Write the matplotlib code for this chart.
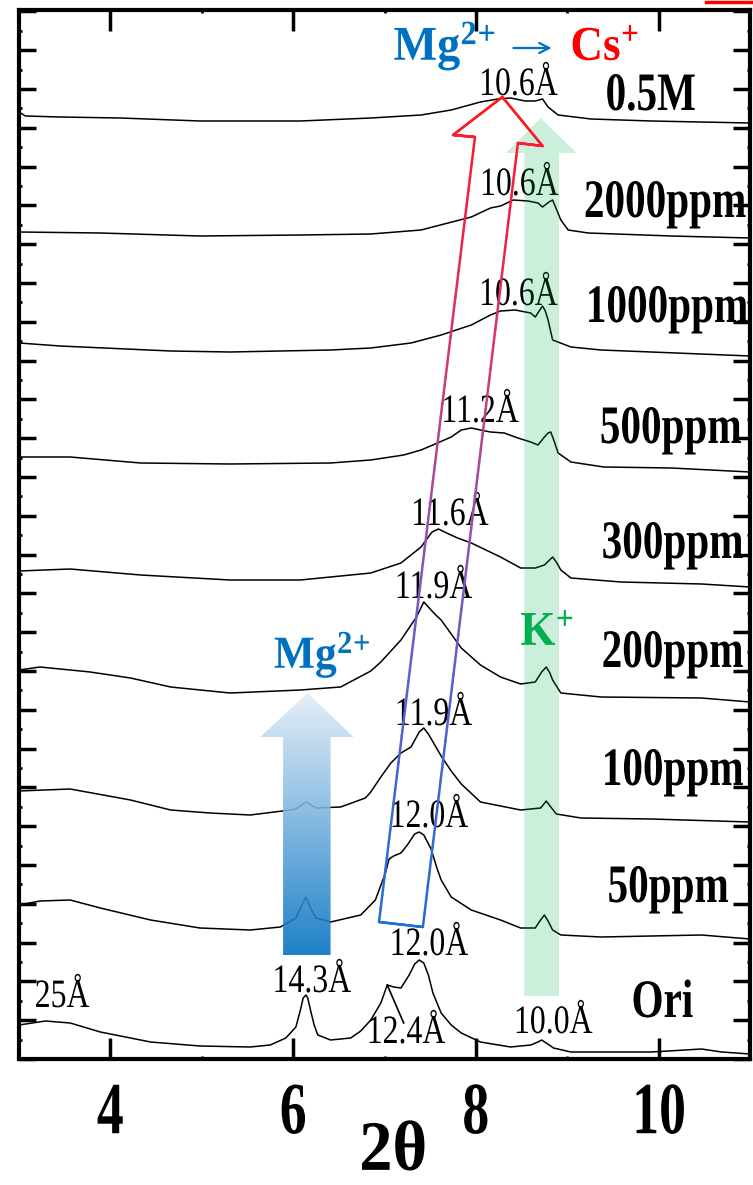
import numpy as np
import matplotlib
matplotlib.use("Agg")
import matplotlib.pyplot as plt
from matplotlib import patheffects
from matplotlib.collections import LineCollection
from matplotlib.colors import LinearSegmentedColormap, Normalize
from matplotlib.lines import Line2D
from matplotlib.patches import Polygon
from matplotlib.text import Text
from matplotlib.ticker import MultipleLocator, AutoMinorLocator
from matplotlib.transforms import Affine2D, Bbox

plt.rcParams['font.family'] = ['Liberation Serif', 'DejaVu Serif']
plt.rcParams['mathtext.fontset'] = 'custom'
plt.rcParams['mathtext.rm'] = 'Liberation Serif'
plt.rcParams['mathtext.bf'] = 'Liberation Serif:bold'
plt.rcParams['mathtext.it'] = 'Liberation Serif:italic'

# stacked XRD patterns, 2theta (deg) vs offset intensity (a.u.)
ori_tt = [3.00, 3.29, 3.56, 3.89, 4.44, 4.98, 5.53, 5.75, 5.92, 6.03, 6.08, 6.11, 6.14, 6.16,
          6.19, 6.23, 6.27, 6.41, 6.63, 6.74, 6.85, 6.96, 7.03, 7.10, 7.18, 7.27, 7.33, 7.38,
          7.43, 7.48, 7.53, 7.62, 7.73, 7.84, 8.05, 8.38, 8.60, 8.68, 8.72, 8.77, 8.85, 9.04,
          9.37, 9.92, 10.47, 10.69, 11.0]
ori_i = [34, 38, 36, 27, 17, 13, 12, 14, 21, 32, 49, 61, 64, 61,
         49, 34, 24, 19, 21, 28, 39, 56, 74, 72, 71, 84, 95, 99,
         96, 84, 66, 46, 34, 26, 17, 12, 14, 17, 19, 16, 11, 7,
         7, 7, 10, 7, 5]

p50_tt = [3.00, 3.23, 3.56, 3.89, 4.44, 4.98, 5.53, 5.86, 6.03, 6.08, 6.14, 6.19, 6.25, 6.41,
          6.74, 6.90, 7.01, 7.05, 7.10, 7.18, 7.25, 7.33, 7.38, 7.43, 7.51, 7.57, 7.62, 7.73,
          7.95, 8.27, 8.49, 8.65, 8.70, 8.75, 8.79, 8.84, 8.93, 9.37, 10.47, 11.0]
p50_i = [154, 158, 159, 151, 139, 131, 129, 132, 141, 151, 162, 151, 141, 137,
         144, 159, 186, 200, 203, 206, 214, 225, 227, 224, 210, 192, 179, 162,
         149, 139, 131, 131, 138, 144, 138, 129, 124, 122, 124, 120]

p100_tt = [3.00, 3.56, 4.22, 4.66, 5.09, 5.53, 5.97, 6.03, 6.14, 6.25, 6.52, 6.79, 6.85, 6.96,
           7.07, 7.18, 7.29, 7.38, 7.43, 7.48, 7.62, 7.73, 7.84, 8.05, 8.49, 8.60, 8.71, 8.77,
           8.82, 8.88, 9.15, 9.92, 11.0]
p100_i = [268, 270, 259, 249, 246, 244, 249, 250, 257, 251, 252, 261, 267, 282,
          296, 306, 312, 327, 331, 325, 303, 288, 275, 257, 249, 250, 251, 258,
          252, 245, 241, 240, 237]

p200_tt = [3.00, 3.23, 3.78, 4.22, 4.66, 5.31, 6.08, 6.52, 6.85, 6.96, 7.18, 7.35, 7.43, 7.48,
           7.55, 7.62, 7.84, 8.05, 8.27, 8.49, 8.65, 8.72, 8.77, 8.81, 8.84, 8.93, 9.37, 10.47,
           11.0]
p200_i = [389, 392, 387, 381, 372, 366, 369, 372, 388, 397, 419, 442, 457, 452,
          445, 439, 411, 394, 382, 375, 377, 387, 392, 386, 379, 366, 362, 361,
          357]

p300_tt = [3.00, 3.56, 4.33, 5.31, 6.08, 6.85, 7.18, 7.40, 7.52, 7.59, 7.68, 7.80, 7.95, 8.27,
           8.49, 8.65, 8.75, 8.84, 8.88, 8.93, 9.04, 9.59, 10.47, 11.0]
p300_i = [488, 490, 484, 479, 479, 486, 496, 512, 527, 530, 526, 521, 516, 502,
          491, 491, 494, 502, 497, 489, 481, 477, 475, 472]

p500_tt = [3.00, 3.56, 4.33, 5.31, 6.41, 6.85, 7.21, 7.40, 7.58, 7.73, 7.84, 7.95, 8.05, 8.16,
           8.31, 8.46, 8.60, 8.68, 8.75, 8.79, 8.82, 8.86, 8.90, 9.04, 9.40, 10.14, 11.0]
p500_i = [602, 602, 596, 595, 596, 599, 604, 609, 616, 622, 629, 631, 629, 627,
          626, 621, 617, 614, 622, 626, 627, 617, 606, 597, 592, 591, 587]

p1000_tt = [3.00, 3.45, 4.66, 5.31, 6.41, 6.85, 7.29, 7.62, 7.95, 8.16, 8.27, 8.43, 8.60, 8.65,
            8.70, 8.73, 8.76, 8.79, 8.84, 9.04, 9.37, 9.92, 11.0]
p1000_i = [716, 713, 708, 707, 709, 711, 716, 724, 734, 744, 748, 749, 746, 742,
           749, 753, 748, 739, 719, 712, 709, 707, 703]

p2000_tt = [3.00, 3.89, 4.98, 6.08, 6.85, 7.40, 7.95, 8.16, 8.27, 8.41, 8.57, 8.68, 8.73, 8.80,
            8.84, 8.93, 9.01, 9.23, 10.14, 11.0]
p2000_i = [827, 826, 823, 824, 825, 829, 842, 851, 853, 859, 858, 856, 852, 857,
           859, 839, 829, 826, 823, 821]

m05_tt = [3.00, 3.07, 3.45, 4.11, 4.98, 6.08, 6.85, 7.40, 7.73, 8.05, 8.24, 8.38, 8.54, 8.65,
          8.73, 8.79, 8.90, 9.26, 9.92, 11.0]
m05_i = [947, 943, 942, 941, 938, 938, 941, 944, 949, 957, 960, 961, 958, 958,
         960, 952, 944, 940, 938, 936]

sample_names = ['Ori', '50ppm', '100ppm', '200ppm', '300ppm', '500ppm', '1000ppm', '2000ppm', '0.5M']
sample_tt = [ori_tt, p50_tt, p100_tt, p200_tt, p300_tt, p500_tt, p1000_tt, p2000_tt, m05_tt]
sample_i = [ori_i, p50_i, p100_i, p200_i, p300_i, p500_i, p1000_i, p2000_i, m05_i]
# right-hand end of each sample label
name_xy = [(10.38, 42), (10.77, 157), (10.93, 274), (10.93, 392), (10.93, 501),
           (10.91, 616), (10.98, 737), (10.96, 842), (10.41, 949)]

# basal spacings written next to the reflections
d_values = ['10.6', '10.6', '10.6', '11.2', '11.6', '11.9', '11.9', '12.0', '12.0',
            '14.3', '12.4', '10.0', '25']
d_xy = [(8.46, 964), (8.47, 864), (8.46, 754), (8.04, 637), (7.71, 534), (7.53, 461),
        (7.53, 334), (7.48, 232), (7.48, 104), (6.20, 67), (7.23, 16), (8.84, 26), (3.47, 52)]

BLUE = '#0070C0'
GREEN = '#00B050'
RED = '#FF0000'


class Squeeze(patheffects.AbstractPathEffect):
    """Draw text outlines narrowed horizontally about a fixed edge or the centre."""

    def __init__(self, sx=0.76, anchor='center'):
        super().__init__()
        self._sx = sx
        self._anchor = anchor

    def draw_path(self, renderer, gc, tpath, affine, rgbFace=None):
        ext = tpath.get_extents(affine)
        if self._anchor == 'right':
            ax0 = ext.x1
        else:
            ax0 = 0.5 * (ext.x0 + ext.x1)
        narrow = Affine2D().translate(-ax0, 0).scale(self._sx, 1).translate(ax0, 0)
        renderer.draw_path(gc, tpath, affine + narrow, rgbFace)


class NarrowText(Text):
    """Text drawn condensed, reporting the condensed extent."""

    def __init__(self, *args, sx=0.76, **kwargs):
        super().__init__(*args, **kwargs)
        self._sx = sx
        anchor = 'right' if self.get_horizontalalignment() == 'right' else 'center'
        self.set_path_effects([Squeeze(sx, anchor)])

    def get_window_extent(self, renderer=None, dpi=None):
        bb = super().get_window_extent(renderer, dpi)
        if self.get_horizontalalignment() == 'right':
            return Bbox.from_extents(bb.x1 - bb.width * self._sx, bb.y0, bb.x1, bb.y1)
        cx = 0.5 * (bb.x0 + bb.x1)
        hw = 0.5 * bb.width * self._sx
        return Bbox.from_extents(cx - hw, bb.y0, cx + hw, bb.y1)


def put_text(ax, x, y, s, sx, ha='center', **kw):
    t = NarrowText(x, y, s, sx=sx, transform=ax.transData, clip_on=False,
                   ha=ha, va='baseline', **kw)
    ax.add_artist(t)
    return t


fig = plt.figure(figsize=(7.53, 11.85), dpi=100)
ax = fig.add_axes([19 / 753, 126 / 1185, 731 / 753, 1049 / 1185])

for tt, inten in zip(sample_tt, sample_i):
    ax.plot(tt, inten, color='black', lw=1.1, zorder=2)

for name, (x, y) in zip(sample_names, name_xy):
    put_text(ax, x, y, name, 0.76, ha='right', fontsize=39, fontweight='bold', zorder=6)

for d, (x, y) in zip(d_values, d_xy):
    put_text(ax, x, y, d + 'Å', 0.79, fontsize=29, zorder=3)

# leader to the 12.4 A shoulder
ax.plot([7.03, 7.21], [74, 36], color='black', lw=1.2, zorder=3)

# K+ band (translucent green arrow)
k_arrow = [(8.53, 63), (8.91, 63), (8.91, 906), (9.10, 906), (8.71, 941), (8.33, 906), (8.53, 906)]
ax.add_patch(Polygon(k_arrow, closed=True, facecolor=GREEN, edgecolor='none', alpha=0.2, zorder=4))
put_text(ax, 8.78, 414, r'$\mathbf{K^{+}}$', 0.93, color=GREEN, fontsize=35, zorder=7)

# Mg2+ arrow with a vertical blue fade
mg_arrow = [(5.89, 104), (6.41, 104), (6.41, 322), (6.66, 322), (6.16, 366), (5.64, 322), (5.89, 322)]
mg_patch = Polygon(mg_arrow, closed=True, facecolor='none', edgecolor='none')
ax.add_patch(mg_patch)
fade = LinearSegmentedColormap.from_list('mgfade', [BLUE, '#e3edf8'])
ramp = np.linspace(0, 1, 256).reshape(-1, 1)
img = ax.imshow(ramp, extent=[5.64, 6.66, 104, 366], origin='lower', aspect='auto',
                cmap=fade, alpha=0.88, zorder=4, interpolation='bilinear')
img.set_clip_path(mg_patch)
put_text(ax, 6.32, 391, r'$\mathbf{Mg^{2\!+}}$', 0.95, color=BLUE, fontsize=33, zorder=7)

# Mg2+ -> Cs+ exchange arrow, outline shaded blue to red
cs_arrow = [(6.94, 137), (7.99, 922), (7.75, 924), (8.29, 962), (8.73, 913), (8.46, 916),
            (7.42, 132), (6.94, 137)]
segs = []
for (x0, y0), (x1, y1) in zip(cs_arrow[:-1], cs_arrow[1:]):
    pts = np.column_stack([np.linspace(x0, x1, 60), np.linspace(y0, y1, 60)])
    segs.extend(np.stack([pts[:-1], pts[1:]], axis=1))
segs = np.array(segs)
shade = LinearSegmentedColormap.from_list(
    'exchange', [(0.0, '#1f6fd6'), (0.3, '#5a60cf'), (0.5, '#9a4fb0'),
                 (0.68, '#d33a6c'), (0.85, '#f0204a'), (1.0, '#ff1a1a')])
lc = LineCollection(segs, cmap=shade, norm=Normalize(132, 962), linewidths=1.8,
                    capstyle='round', zorder=5)
lc.set_array(segs[:, :, 1].mean(axis=1))
ax.add_collection(lc)

put_text(ax, 7.66, 999, r'$\mathbf{Mg^{2\!+}}$', 0.95, color=BLUE, fontsize=35, zorder=7)
put_text(ax, 9.41, 999, r'$\mathbf{Cs^{+}}$', 0.93, color=RED, fontsize=35, zorder=7)
ax.annotate('', xy=(8.86, 1011), xytext=(8.38, 1011),
            arrowprops=dict(arrowstyle='->', color=BLUE, lw=1.6, mutation_scale=18))

ax.set_xlim(3, 11)
ax.set_ylim(0, 1049)
ax.xaxis.set_major_locator(MultipleLocator(2))
ax.xaxis.set_minor_locator(MultipleLocator(1))
ax.yaxis.set_major_locator(MultipleLocator(38.8))
ax.yaxis.set_minor_locator(AutoMinorLocator(2))
ax.tick_params(which='both', direction='in', top=True, right=True, labelleft=False)
ax.tick_params(axis='x', which='major', length=15, width=2.5, pad=16, labelsize=53)
ax.tick_params(axis='y', which='major', length=12, width=2.5)
ax.tick_params(which='minor', length=2, width=2)
for sp in ax.spines.values():
    sp.set_linewidth(3)

ax.set_xticks([4, 6, 8, 10])
for lbl in ax.get_xticklabels():
    lbl.set_fontweight('bold')
    lbl.set_path_effects([Squeeze(0.73)])

ax.set_xlabel('2θ', fontsize=51, fontweight='bold', path_effects=[Squeeze(0.94)])
ax.xaxis.set_label_coords(0.512, -0.058)

fig.add_artist(Line2D([706 / 753, 1.0], [1 - 2 / 1185] * 2, transform=fig.transFigure,
                      color=RED, lw=2.5))

plt.savefig('out.png', dpi=100)
